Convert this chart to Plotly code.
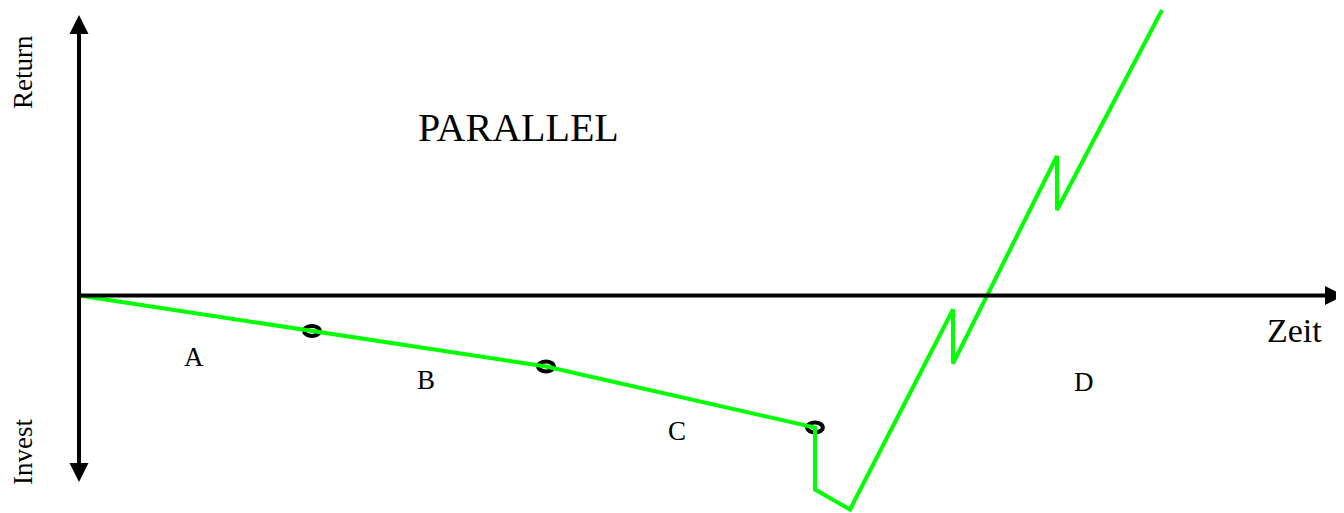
import plotly.graph_objects as go

# Cash-flow profile over time (origin = start of project)
time = [0, 23.3, 46.7, 73.6, 73.6, 77.1, 87.4, 87.4, 97.8, 97.8, 108.3]
cash = [0, -3.55, -7.1, -13.2, -19.4, -21.4, -1.4, -6.8, 13.95, 8.55, 28.55]

# Phase boundaries (milestones) marked with ellipses
milestone_idx = [1, 2, 3]

# Phase labels
phase_names = ["A", "B", "C", "D"]
phase_x = [11.5, 34.7, 59.8, 100.5]
phase_y = [-6.15, -8.45, -13.55, -8.65]

title_text = "PARALLEL"
title_pos = (43.9, 16.85)

# Axis extents
x_axis = [0.0, 126.5]
y_axis = [-18.8, 28.05]

# page is offset by the 8px body margin, so the plot area starts at page px 8
x_range = [-7.1, 126.5]
y_range = [-21.75, 28.75]

FONT = "Liberation Serif, Times New Roman, serif"

fig = go.Figure()

fig.add_trace(go.Scatter(
    x=time, y=cash, mode="lines",
    line=dict(color="#00FF00", width=4),
    hoverinfo="skip",
))

shapes = []
ew, eh = 0.78, 0.5
for i in milestone_idx:
    shapes.append(dict(
        type="circle", xref="x", yref="y", layer="below",
        x0=time[i] - ew, x1=time[i] + ew,
        y0=cash[i] - eh, y1=cash[i] + eh,
        line=dict(color="black", width=4),
        fillcolor="rgba(0,0,0,0)",
    ))

annotations = []
# horizontal axis (Zeit)
annotations.append(dict(
    x=x_axis[1], y=0, ax=x_axis[0], ay=0,
    xref="x", yref="y", axref="x", ayref="y",
    text="", showarrow=True, arrowhead=2, arrowsize=0.95,
    arrowwidth=4, arrowcolor="black",
))
# vertical axis (Return / Invest)
annotations.append(dict(
    x=0, y=y_axis[1], ax=0, ay=y_axis[0],
    xref="x", yref="y", axref="x", ayref="y",
    text="", showarrow=True, arrowhead=2, startarrowhead=2,
    arrowside="end+start", arrowsize=0.95, startarrowsize=0.95,
    arrowwidth=4, arrowcolor="black",
))

for name, px, py in zip(phase_names, phase_x, phase_y):
    annotations.append(dict(
        x=px, y=py, xref="x", yref="y", text=name, showarrow=False,
        font=dict(family=FONT, size=27, color="black"),
    ))

annotations.append(dict(
    x=title_pos[0], y=title_pos[1], xref="x", yref="y", text=title_text,
    showarrow=False, font=dict(family=FONT, size=40, color="black"),
))
annotations.append(dict(
    x=121.5, y=-3.45, xref="x", yref="y", text="Zeit",
    showarrow=False, font=dict(family=FONT, size=34, color="black"),
))
annotations.append(dict(
    x=-5.6, y=22.35, xref="x", yref="y", text="Return", textangle=-90,
    showarrow=False, font=dict(family=FONT, size=27, color="black"),
))
annotations.append(dict(
    x=-5.6, y=-15.65, xref="x", yref="y", text="Invest", textangle=-90,
    showarrow=False, font=dict(family=FONT, size=27, color="black"),
))

fig.update_layout(
    width=1336, height=505,
    margin=dict(l=0, r=0, t=0, b=0),
    paper_bgcolor="white", plot_bgcolor="white",
    showlegend=False,
    xaxis=dict(visible=False, range=x_range, fixedrange=True),
    yaxis=dict(visible=False, range=y_range, fixedrange=True),
    shapes=shapes,
    annotations=annotations,
)

fig.write_html("out.html")
